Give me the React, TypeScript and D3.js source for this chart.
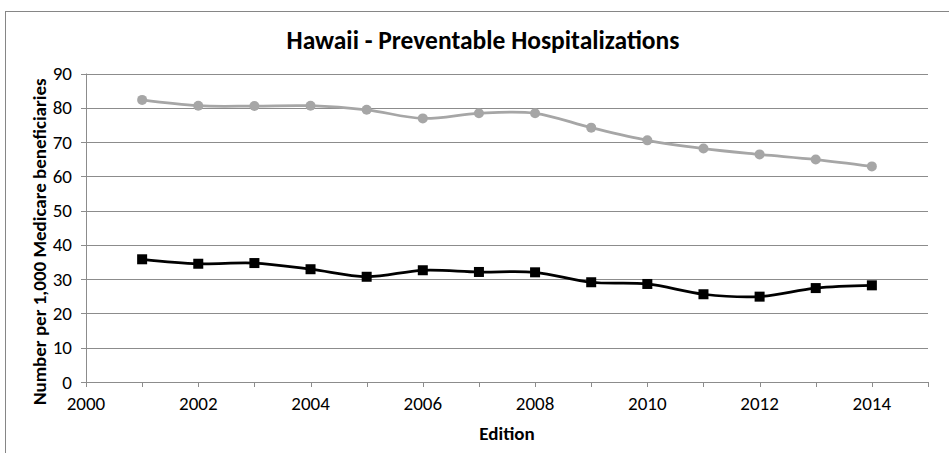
import React, { useLayoutEffect } from "react";
import * as d3 from "d3";

const years = [2001, 2002, 2003, 2004, 2005, 2006, 2007, 2008, 2009, 2010, 2011, 2012, 2013, 2014];
const greyValues = [82.3, 80.6, 80.5, 80.6, 79.4, 76.9, 78.4, 78.4, 74.2, 70.5, 68.1, 66.4, 64.9, 62.9];
const blackValues = [35.8, 34.5, 34.7, 32.9, 30.7, 32.6, 32.1, 32.0, 29.1, 28.6, 25.6, 24.9, 27.4, 28.2];
const xTickLabels = [2000, 2002, 2004, 2006, 2008, 2010, 2012, 2014];
const yTickValues = [0, 10, 20, 30, 40, 50, 60, 70, 80, 90];
const title = "Hawaii - Preventable Hospitalizations";
const xTitle = "Edition";
const yTitle = "Number per 1,000 Medicare beneficiaries";

const W = 949;
const H = 453;
const FONT = "Carlito, 'Liberation Sans', Arial, sans-serif";

export default function App() {
  useLayoutEffect(() => {
    document.body.style.margin = "0";
  }, []);

  const x = d3.scaleLinear().domain([2000, 2015]).range([86, 928]);
  const y = d3.scaleLinear().domain([0, 90]).range([382, 73.5]);

  const line = d3
    .line<number>()
    .x((_, i) => x(years[i]))
    .y((d) => y(d))
    .curve(d3.curveCatmullRom.alpha(0.5));

  const minorTicks = d3.range(2000, 2016);

  return (
    <svg width={W} height={H} style={{ display: "block", background: "#fff" }}>
      <rect x={0} y={0} width={W} height={H} fill="#fff" />
      <rect x={5.5} y={11.5} width={980} height={480} fill="none" stroke="#868686" strokeWidth={1} />
      <text x={483} y={49} textAnchor="middle" fontFamily={FONT} fontWeight="bold" fontSize={25.5} fill="#000">
        {title}
      </text>
      {/* gridlines */}
      {yTickValues.filter((v) => v > 0).map((v) => (
        <line key={"g" + v} x1={x(2000)} x2={x(2015)} y1={Math.round(y(v)) + 0.5} y2={Math.round(y(v)) + 0.5} stroke="#8c8c8c" strokeWidth={1} />
      ))}
      {/* y axis */}
      <line x1={x(2000) + 0.5} x2={x(2000) + 0.5} y1={y(90)} y2={y(0) + 4} stroke="#8c8c8c" />
      {yTickValues.map((v) => (
        <g key={"yt" + v}>
          <line x1={x(2000) - 5} x2={x(2000)} y1={Math.round(y(v)) + 0.5} y2={Math.round(y(v)) + 0.5} stroke="#8c8c8c" />
          <text x={72} y={y(v) + 6.5} textAnchor="end" fontFamily={FONT} fontSize={19} fill="#000">
            {v}
          </text>
        </g>
      ))}
      {/* x axis */}
      <line x1={x(2000)} x2={x(2015)} y1={Math.round(y(0)) + 0.5} y2={Math.round(y(0)) + 0.5} stroke="#8c8c8c" />
      {minorTicks.map((t) => (
        <line key={"xt" + t} x1={Math.round(x(t)) + 0.5} x2={Math.round(x(t)) + 0.5} y1={y(0)} y2={y(0) + 5} stroke="#8c8c8c" />
      ))}
      {xTickLabels.map((t) => (
        <text key={"xl" + t} x={x(t)} y={410} textAnchor="middle" fontFamily={FONT} fontSize={19} fill="#000">
          {t}
        </text>
      ))}
      <text x={(x(2000) + x(2015)) / 2} y={440} textAnchor="middle" fontFamily={FONT} fontWeight="bold" fontSize={19} fill="#000">
        {xTitle}
      </text>
      <text
        transform={`translate(46, ${(y(0) + y(90)) / 2 + 14}) rotate(-90)`}
        textAnchor="middle"
        fontFamily={FONT}
        fontWeight="bold"
        fontSize={19}
        fill="#000"
      >
        {yTitle}
      </text>
      {/* grey series */}
      <path d={line(greyValues) || ""} fill="none" stroke="#a6a6a6" strokeWidth={2.75} />
      {greyValues.map((v, i) => (
        <circle key={"c" + i} cx={x(years[i])} cy={y(v)} r={5} fill="#a6a6a6" />
      ))}
      {/* black series */}
      <path d={line(blackValues) || ""} fill="none" stroke="#000" strokeWidth={2.75} />
      {blackValues.map((v, i) => (
        <rect key={"s" + i} x={x(years[i]) - 5} y={y(v) - 5} width={10} height={10} fill="#000" />
      ))}
    </svg>
  );
}
